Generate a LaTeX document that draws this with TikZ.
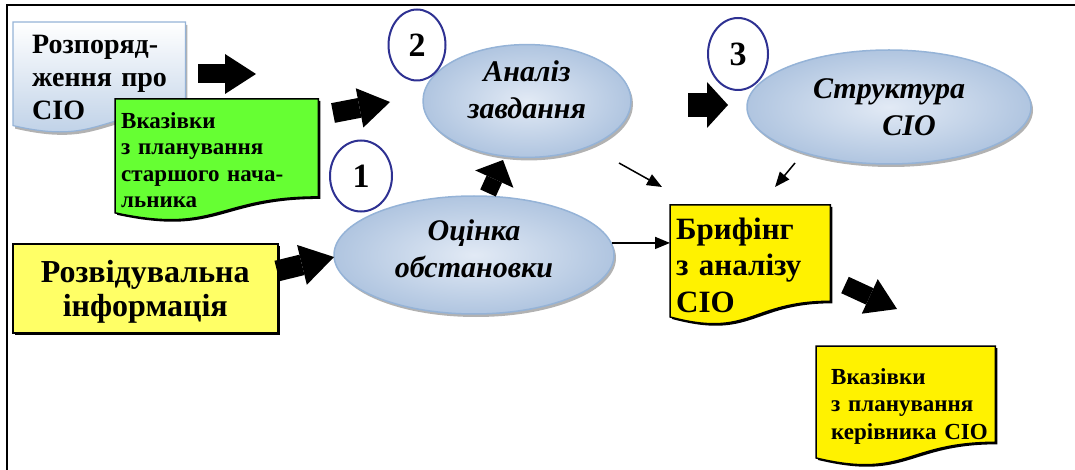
\documentclass[tikz,border=0pt]{standalone}
\usepackage{fontspec}
\setmainfont{Liberation Serif}
\usetikzlibrary{shapes.geometric,arrows.meta,calc,shadows}
\pgfdeclarelayer{bg}
\pgfsetlayers{bg,main}
\definecolor{vkazgreen}{HTML}{66FF33}
\definecolor{rozvidyellow}{HTML}{FFFF66}
\definecolor{ellborder}{HTML}{95B3D7}
\definecolor{ellinner}{HTML}{E2EAF5}
\definecolor{ellouter}{HTML}{B0C5E0}
\definecolor{docblue}{HTML}{B9CDE5}
\definecolor{numblue}{HTML}{2E3192}
\newcommand{\docbox}[2]{\path[#2] (#1.north west) -- (#1.north east) -- ($(#1.north east)!0.80!(#1.south east)$) .. controls ($(#1.north)!0.80!(#1.south)$) and ($(#1.north)!1.11!(#1.south)$) .. ($(#1.north west)!0.93!(#1.south west)$) -- cycle;}
\tikzset{
    docnode/.style={anchor=north west, inner ysep=0pt, align=left},
    oval/.style={ellipse, draw=ellborder, line width=1.5pt, inner color=ellinner, outer color=ellouter, inner sep=0pt, align=center, font=\bfseries\itshape\fontsize{30}{37}\selectfont, drop shadow={shadow xshift=2pt, shadow yshift=-3pt, fill=gray!60, opacity=1}},
    numcircle/.style={ellipse, draw=numblue, line width=2pt, fill=white, inner sep=0pt, font=\bfseries\fontsize{34}{34}\selectfont},
    blockarrow/.style={line width=19pt, -{Triangle[length=31pt 0, width=40pt 0, line width=0pt]}},
    thinarrow/.style={line width=1.5pt, -{Triangle[length=15pt 0, width=12pt 0]}},
    blackshadow/.style={drop shadow={shadow xshift=2pt, shadow yshift=-2pt, fill=black, opacity=1}}
}
\begin{document}
\begin{tikzpicture}[x=1pt, y=-1pt]
                \useasboundingbox (0,0) rectangle (1075,470);
                \draw[line width=2pt] (7,470) -- (7,5.5) -- (1075,5.5);

                \node[docnode, inner xsep=19pt, text width=134pt, minimum height=111pt, font=\bfseries\fontsize{28}{33}\selectfont] (rozp) at (13,22) {Розпоряд-\\ження~про\\СІО};
                \node[docnode, inner xsep=6pt, text width=191pt, minimum height=122pt, font=\bfseries\fontsize{23}{26.5}\selectfont] (vkaz) at (115,99) {Вказівки\\з планування\\старшого нача-\\льника};
                \node[docnode, inner xsep=6pt, text width=148pt, minimum height=120pt, font=\bfseries\fontsize{31}{36.5}\selectfont] (brif) at (670,205) {Брифінг\\з аналізу\\СІО};
                \node[docnode, inner xsep=15pt, text width=149pt, minimum height=120pt, font=\bfseries\fontsize{23}{27.5}\selectfont] (kerivn) at (816,346) {Вказівки\\з планування\\керівника~СІО};
                \node[anchor=north west, draw=black, line width=1.5pt, fill=rozvidyellow, blackshadow, minimum width=265pt, minimum height=89pt, text depth=0pt, align=center, font=\bfseries\fontsize{32}{34}\selectfont] (rozvid) at (12,243) {Розвідувальна\\інформація};

                \begin{pgfonlayer}{bg}
                    \docbox{rozp}{draw=ellborder, line width=1.2pt, top color=white, bottom color=docblue, drop shadow={shadow xshift=2pt, shadow yshift=-3pt, fill=gray!60, opacity=1}}
                    \docbox{vkaz}{draw=black, line width=1.5pt, fill=vkazgreen, blackshadow}
                    \docbox{brif}{draw=black, line width=1.5pt, fill=yellow, blackshadow}
                    \docbox{kerivn}{draw=black, line width=1.5pt, fill=yellow, blackshadow}
                \end{pgfonlayer}

                \node[oval, minimum width=208pt, minimum height=102pt, text depth=22pt] (analiz) at (527,101) {Аналіз\\завдання};
                \node[oval, minimum width=280pt, minimum height=118pt, text depth=13pt] (ocinka) at (474,255) {Оцінка\\обстановки};
                \node[oval, minimum width=284pt, minimum height=114pt] (struct) at (889,107) {Структура\\\hspace*{40pt}СІО};

                \node[numcircle, minimum width=57pt, minimum height=71pt] (n2) at (417,45) {2};
                \node[numcircle, minimum width=62pt, minimum height=71pt] (n1) at (361,176) {1};
                \node[numcircle, minimum width=60pt, minimum height=72pt] (n3) at (738,54) {3};

                \coordinate (b1s) at (198,74);
                \coordinate (b1e) at (256,74);
                \coordinate (b2s) at (333,113);
                \coordinate (b2e) at (390,102);
                \coordinate (b3s) at (488,193);
                \coordinate (b3e) at (503,160);
                \coordinate (b4s) at (688,105);
                \coordinate (b4e) at (728,105);
                \coordinate (b5s) at (277,271);
                \coordinate (b5e) at (334,257);
                \coordinate (b6s) at (845,285);
                \coordinate (b6e) at (897,309);
                \draw[blockarrow] (b1s) -- (b1e);
                \draw[blockarrow, line width=20pt] (b2s) -- (b2e);
                \draw[line width=17pt, -{Triangle[length=21pt 0, width=42pt 0, line width=0pt]}] (b3s) -- (b3e);
                \draw[line width=24pt, -{Triangle[length=21pt 0, width=46pt 0, line width=0pt]}] (b4s) -- (b4e);
                \draw[blockarrow, line width=21pt, -{Triangle[length=33pt 0, width=41pt 0, line width=0pt]}] (b5s) -- (b5e);
                \draw[blockarrow, line width=18pt, -{Triangle[length=30pt 0, width=38pt 0, line width=0pt]}] (b6s) -- (b6e);

                \coordinate (fa) at (619,163);
                \coordinate (fb) at (662,187);
                \coordinate (fc) at (795,163);
                \coordinate (fd) at (775,187);
                \draw[thinarrow] (ocinka.5) -- (ocinka.5 -| brif.west);
                \draw[thinarrow] (fa) -- (fb);
                \draw[thinarrow] (fc) -- (fd);
            \end{tikzpicture}
\end{document}
